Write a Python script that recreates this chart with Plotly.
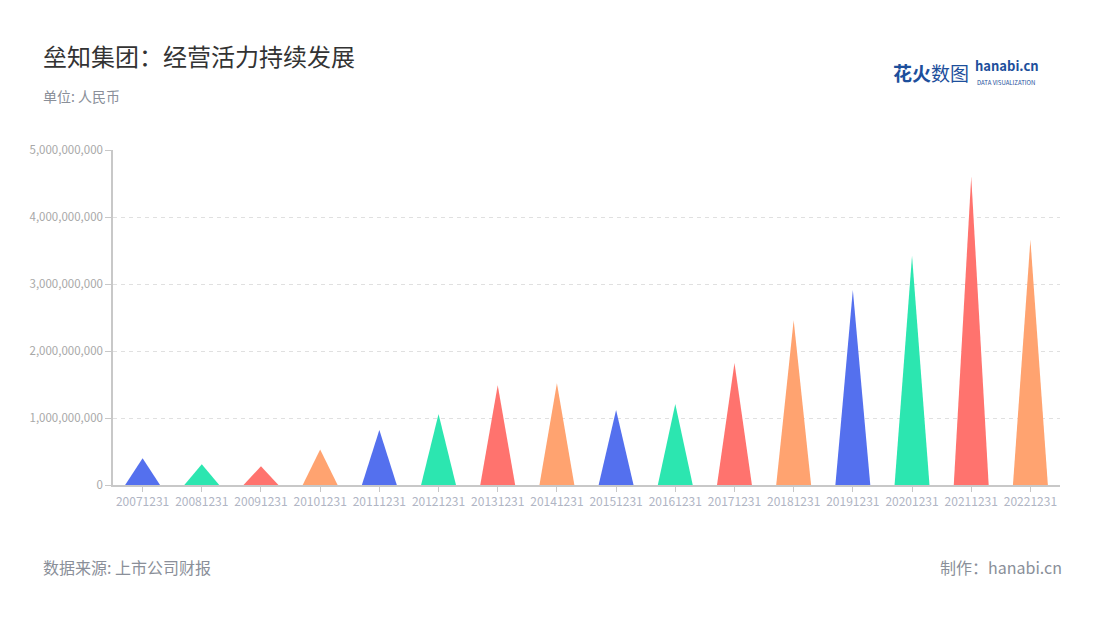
import plotly.graph_objects as go

categories = ["20071231", "20081231", "20091231", "20101231", "20111231", "20121231",
              "20131231", "20141231", "20151231", "20161231", "20171231", "20181231",
              "20191231", "20201231", "20211231", "20221231"]
values = [0.40e9, 0.31e9, 0.28e9, 0.53e9, 0.82e9, 1.06e9, 1.49e9, 1.52e9,
          1.12e9, 1.21e9, 1.82e9, 2.46e9, 2.91e9, 3.42e9, 4.60e9, 3.66e9]
palette = ["#5470EE", "#2CE6B0", "#FF736E", "#FFA370"]
y_ticks = [0, 1e9, 2e9, 3e9, 4e9, 5e9]

FONT = "Noto Sans CJK SC, Noto Sans, sans-serif"
half = 0.295

# page offset (browser body margin)
OFF = 8
L, R, T, B = 113 - OFF, 1100 - 1060 + OFF, 150 - OFF, 620 - 485 + OFF
PW, PH = 1100 - L - R, 620 - T - B


def px(x):
    return (x - OFF - L) / PW


def py(y):
    return 1 - (y - OFF - T) / PH


fig = go.Figure()
for i, (c, v) in enumerate(zip(categories, values)):
    col = palette[i % len(palette)]
    fig.add_trace(go.Scatter(
        x=[i - half, i, i + half, i - half], y=[0, v, 0, 0],
        mode="lines", fill="toself", fillcolor=col,
        line=dict(width=0, color=col), hoverinfo="text",
        text=f"{c}: {v:,.0f}", showlegend=False))

fig.update_layout(
    width=1100, height=620,
    margin=dict(l=L, r=R, t=T, b=B),
    paper_bgcolor="white", plot_bgcolor="white",
    font=dict(family=FONT),
    xaxis=dict(
        range=[-0.5, len(categories) - 0.5],
        tickmode="array", tickvals=list(range(len(categories))), ticktext=categories,
        showgrid=False, zeroline=False, showline=True, linecolor="#c8c8c8", linewidth=1.5,
        ticks="outside", ticklen=5, tickcolor="#c8c8c8",
        tickfont=dict(size=12, color="#b0b5c4", family=FONT),
    ),
    yaxis=dict(
        range=[0, 5e9], tickmode="array", tickvals=y_ticks,
        ticktext=[f"{t:,.0f}" for t in y_ticks],
        showgrid=True, gridcolor="#e0e0e0", griddash="4px,4px", gridwidth=1.2,
        zeroline=False, showline=True, linecolor="#c8c8c8", linewidth=1.5,
        ticks="outside", ticklen=6, tickcolor="#c8c8c8",
        tickfont=dict(size=11.5, color="#a8a8a8", family=FONT),
    ),
)


def text(t, x, y, size, color, xanchor="left", yanchor="middle"):
    fig.add_annotation(xref="paper", yref="paper", x=px(x), y=py(y),
                       xanchor=xanchor, yanchor=yanchor, showarrow=False,
                       text=t, borderpad=0,
                       font=dict(family=FONT, size=size, color=color))


text("垒知集团：经营活力持续发展", 42, 55, 24, "#333333")
text("单位: 人民币", 42, 96, 14, "#8a8f99")
text("数据来源: 上市公司财报", 42, 567, 16, "#8a8f99")
text("制作：hanabi.cn", 1063, 567, 16, "#8a8f99", xanchor="right")
# logo as text
text("<b>花火</b>数图", 892, 73, 19, "#1d4f9c")
text("<b>hanabi.cn</b>", 974, 76, 13, "#1d4f9c", yanchor="bottom")
text("DATA VISUALIZATION", 976, 77, 6, "#1d4f9c", yanchor="top")

fig.write_html("out.html")
